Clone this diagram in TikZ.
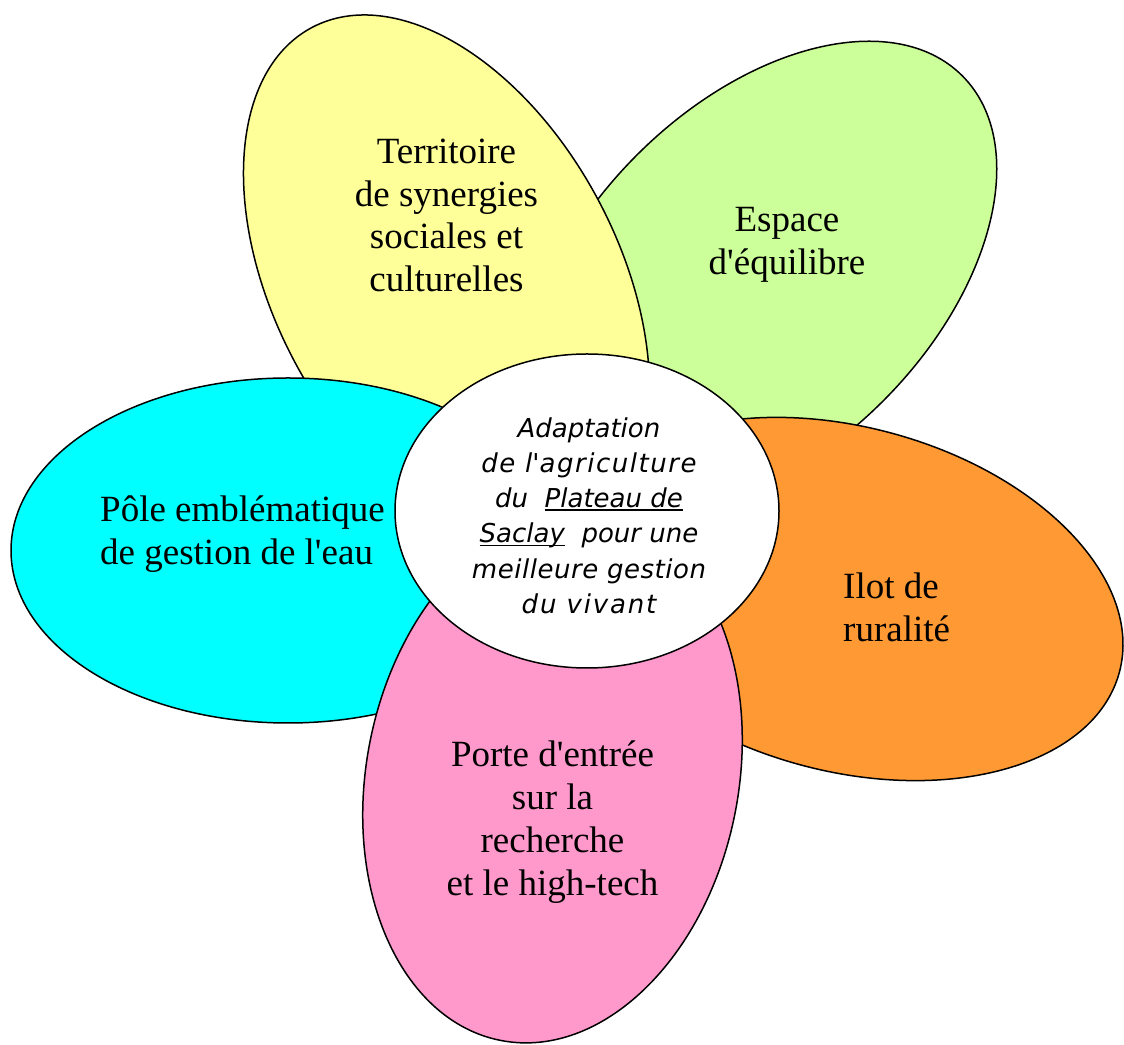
\documentclass[tikz,border=0pt]{standalone}
\usepackage{fontspec}
\setmainfont{Liberation Serif}
\newfontfamily\ctrfont{DejaVu Sans}
\usetikzlibrary{shapes.geometric}
\definecolor{cyel}{HTML}{FFFF99}
\definecolor{cgrn}{HTML}{CCFF99}
\definecolor{ccya}{HTML}{00FFFF}
\definecolor{cora}{HTML}{FF9933}
\definecolor{cpnk}{HTML}{FF99CC}
\newcommand\ap{\textquotesingle}
\newcommand\myul[1]{\setbox0\hbox{#1}\rlap{\rule[-3pt]{\wd0}{1.3pt}}\box0}
\newcommand\spaced[2]{{\addfontfeature{LetterSpace=#1}#2}}
\begin{document}
\begin{tikzpicture}[x=1pt,y=1pt,
  petal/.style={ellipse, draw=black, line width=1.5pt, inner sep=0pt, outer sep=0pt},
  ptext/.style={font=\fontsize{37}{42.8}\selectfont, align=center, anchor=base, inner sep=0pt},
  ltext/.style={font=\fontsize{37}{42.8}\selectfont, align=left, anchor=base west, inner sep=0pt},
  ctext/.style={font=\ctrfont\itshape\fontsize{26}{35.2}\selectfont, align=center, anchor=base, inner sep=0pt}]
\useasboundingbox (0,0) rectangle (1124,1044);
\clip (0,0) rectangle (1124,1044);
% petals, back to front
\node[petal, fill=cgrn, minimum width=572pt, minimum height=348pt, rotate=45] (green) at (760,766) {};
\node[petal, fill=cyel, minimum width=574pt, minimum height=344pt, rotate=-62] (yellow) at (446.5,763) {};
\node[petal, fill=ccya, minimum width=554pt, minimum height=345pt] (cyan) at (288,493.5) {};
\node[petal, fill=cora, minimum width=566pt, minimum height=344pt, rotate=-15] (orange) at (846,445) {};
\node[petal, fill=cpnk, minimum width=372pt, minimum height=536pt, rotate=-11.2] (pink) at (552.5,266.5) {};
\node[petal, fill=white, minimum width=384pt, minimum height=314pt] (heart) at (587,533) {};
% texts (anchor base = baseline of the last line)
\node[ptext] (tyellow) at (446.5,752.3) {Territoire\\de synergies\\sociales et\\culturelles};
\node[ptext] (tgreen) at (787,769.5) {Espace\\d\ap équilibre};
\node[ltext] (tcyan) at (100,479.5) {Pôle emblématique\\de gestion de l\ap eau};
\node[ltext] (torange) at (843,402.2) {Ilot de\\ruralité};
\node[ptext] (tpink) at (552.5,148.9) {Porte d\ap entrée\\sur la\\recherche\\et le high-tech};
\node[ctext] (theart) at (589,430.7) {Adaptation\\\spaced{5.9}{de l\ap agriculture}\\du\ \ \myul{Plateau de}\\\myul{Saclay}\ \ pour une\\\spaced{2}{meilleure gestion}\\\spaced{7}{du vivant}};
\end{tikzpicture}
\end{document}
